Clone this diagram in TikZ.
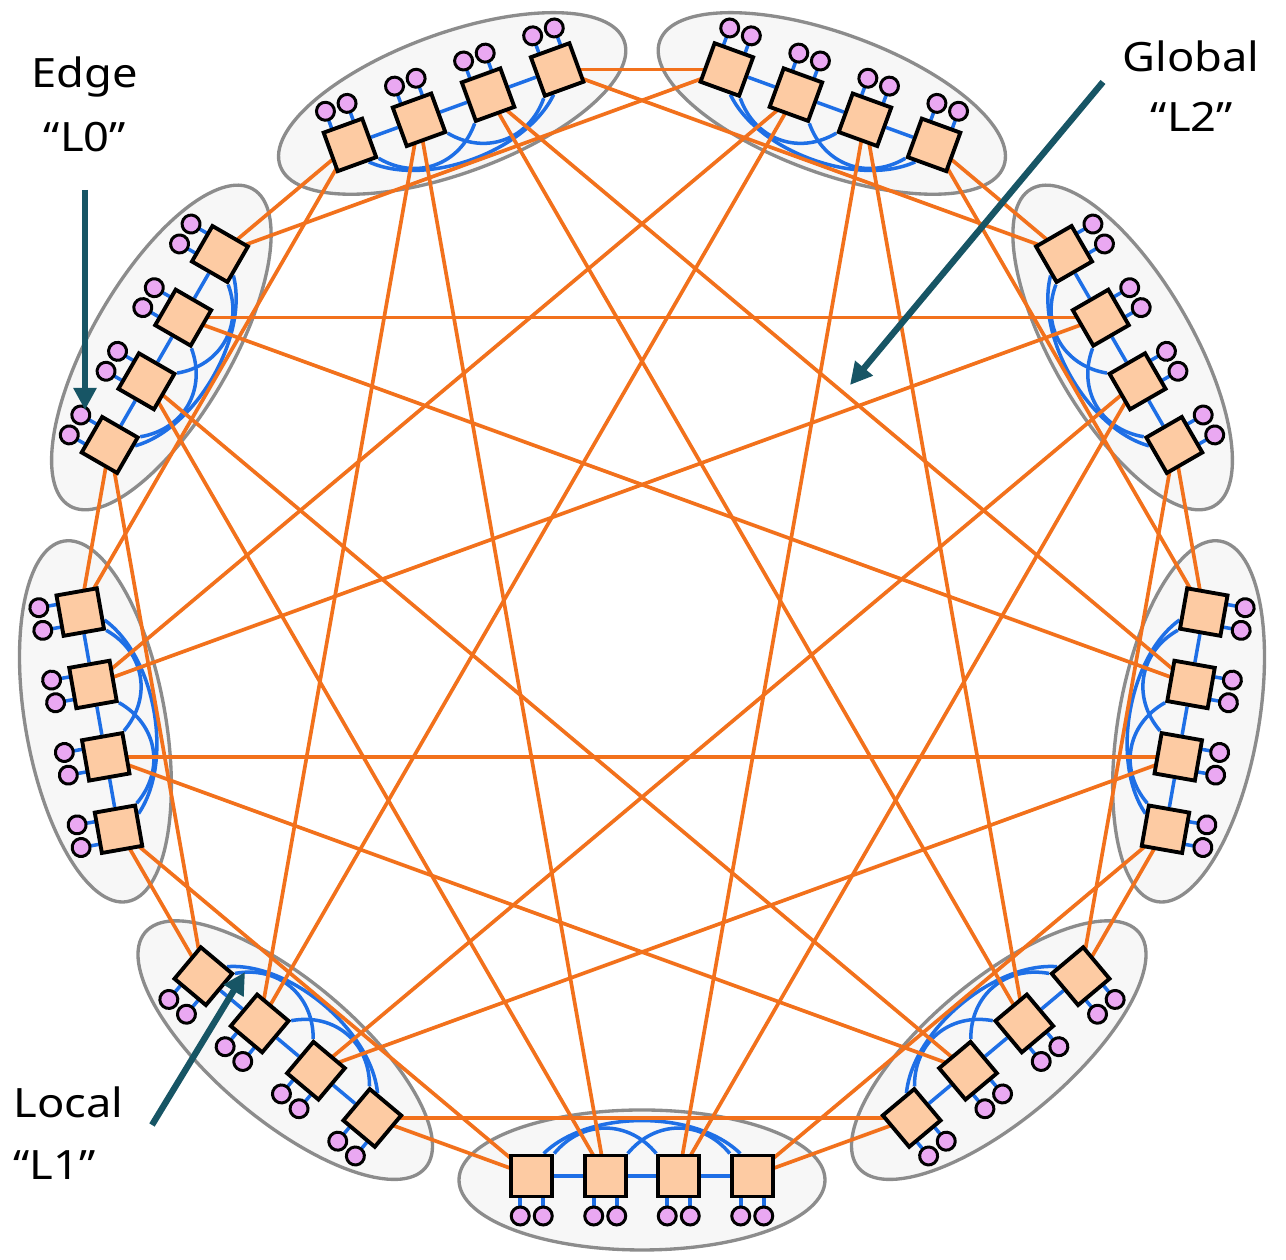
\documentclass[tikz,border=0pt]{standalone}
\usepackage{fontspec}
\setmainfont{Noto Sans}
\newfontfamily\labfont[FakeStretch=1.12]{Noto Sans}
\usetikzlibrary{calc,arrows.meta}
\definecolor{orng}{HTML}{F2711C}
\definecolor{blu}{HTML}{1E6FE6}
\definecolor{peach}{HTML}{FDCBA3}
\definecolor{pinky}{HTML}{EAA8F2}
\definecolor{grpfill}{HTML}{F7F7F7}
\definecolor{grpline}{HTML}{8C8C8C}
\definecolor{tealc}{HTML}{175565}
\pgfdeclarelayer{back}
\pgfdeclarelayer{mid}
\pgfsetlayers{back,mid,main}
\begin{document}
\begin{tikzpicture}[x=0.02cm,y=0.02cm,
  router/.style={draw=black,fill=peach,line width=2.2pt,minimum size=0.82cm,inner sep=0pt,shape=rectangle},
  term/.style={draw=black,fill=pinky,line width=1.7pt,circle,minimum size=0.36cm,inner sep=0pt},
  stub/.style={draw=blu,line width=2pt},
  locallink/.style={draw=blu,line width=2pt},
  globallink/.style={draw=orng,line width=2.1pt},
  grp/.style={draw=grpline,fill=grpfill,line width=1.9pt},
  lab/.style={font=\labfont\fontsize{23}{27}\selectfont,inner sep=0pt,anchor=base},
  pointer/.style={draw=tealc,line width=3.6pt,-{Triangle[length=0.44cm,width=0.44cm]}}]
\useasboundingbox (0,0) rectangle (1286,1260);
\coordinate (C) at (642,635);
\foreach \g in {0,...,8}{
  \pgfmathsetmacro\ang{-90-40*\g}
  \begin{scope}[shift={($(C)+(\ang:551)$)},rotate=\ang+90,transform shape]
    \begin{pgfonlayer}{back}
      \draw[grp] (0,-4) ellipse [x radius=183,y radius=70];
    \end{pgfonlayer}
    \foreach \r in {0,...,3}{
      \pgfmathsetmacro\px{(\r-1.5)*73.5}
      \node[router] (g\g-\r) at (\px,0) {};
      \coordinate (s\g-\r-0) at (\px-11.5,-20);
      \coordinate (s\g-\r-1) at (\px+11.5,-20);
      \node[term] (t\g-\r-0) at (\px-11.5,-40) {};
      \node[term] (t\g-\r-1) at (\px+11.5,-40) {};
      \begin{pgfonlayer}{mid}
        \draw[stub] (t\g-\r-0.center) -- (s\g-\r-0);
        \draw[stub] (t\g-\r-1.center) -- (s\g-\r-1);
      \end{pgfonlayer}
    }
    \begin{pgfonlayer}{mid}
      \draw[locallink] (g\g-0) -- (g\g-1);
      \draw[locallink] (g\g-1) -- (g\g-2);
      \draw[locallink] (g\g-2) -- (g\g-3);
      \draw[locallink] (g\g-0.45) .. controls +(28,34) and +(-28,34) .. (g\g-2.135);
      \draw[locallink] (g\g-1.45) .. controls +(28,34) and +(-28,34) .. (g\g-3.135);
      \draw[locallink] (g\g-0.62) .. controls +(45,44) and +(-45,44) .. (g\g-3.118);
    \end{pgfonlayer}
  \end{scope}
}
\begin{pgfonlayer}{mid}
\foreach \g in {0,...,8}{
  \foreach \d in {1,...,4}{
    \pgfmathtruncatemacro\h{mod(\g+\d,9)}
    \pgfmathtruncatemacro\ra{floor((\d-1)/2)}
    \pgfmathtruncatemacro\rb{3-\ra}
    \draw[globallink] (g\g-\ra.center) -- (g\h-\rb.center);
  }
}
\end{pgfonlayer}
\node[lab] (edgeT) at (85,1172) {Edge};
\node[lab] (edgeQ) at (85,1108) {“L0”};
\node[lab] (globT) at (1191,1188) {Global};
\node[lab] (globQ) at (1192,1128) {“L2”};
\node[lab,anchor=base west] (locT) at (13,142) {Local};
\node[lab,anchor=base west] (locQ) at (13,80) {“L1”};
\coordinate (e0) at (85,1070);
\coordinate (e1) at (85,850);
\coordinate (gl0) at (1103,1178);
\coordinate (gl1) at (850,875);
\coordinate (lo0) at (152,135);
\coordinate (lo1) at (245,288);
\draw[pointer] (e0) -- (e1);
\draw[pointer] (gl0) -- (gl1);
\draw[pointer] (lo0) -- (lo1);
\end{tikzpicture}
\end{document}
